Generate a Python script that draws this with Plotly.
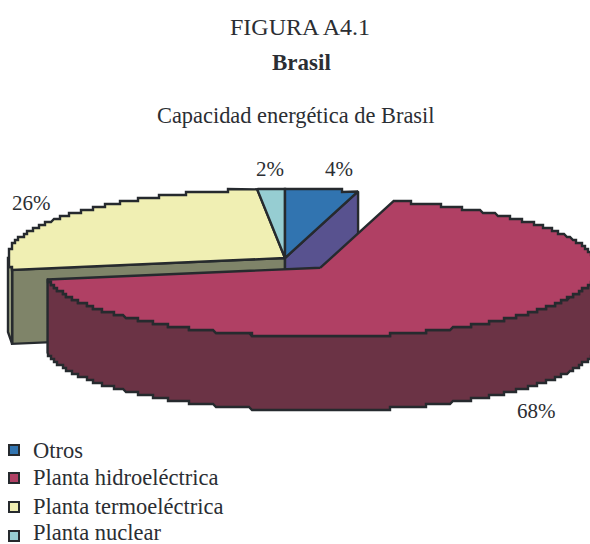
import numpy as np
import plotly.graph_objects as go

# Data
categories = ["Otros", "Planta hidroeléctrica", "Planta termoeléctrica", "Planta nuclear"]
values = [4.25, 68.0, 26.15, 1.6]
top_colors = ["#3174b0", "#b04064", "#f0efb3", "#96cdd2"]
side_colors = ["#58528f", "#6b3345", "#7f8469", "#5f8a8d"]
title_lines = ["FIGURA A4.1", "Brasil", "Capacidad energética de Brasil"]

# Layout constants
W, H = 590, 544
CX, CY, A, B, DEPTH = 285, 258, 277, 69, 74
EXPLODE = 0.19
EDGE = "#262a2e"
TEXT = "#2b2e33"
FONT = "Liberation Serif"
LABEL_POS = [(339, 169), (536, 411), (31, 203), (270, 169)]
LEGEND_Y = [450, 478, 507, 536]
LEGEND_TEXT_Y = [450, 477, 506, 532]
GRID = 3


def arc(cx, cy, t0, t1):
    n = max(int(abs(t1 - t0) * 300), 2)
    t = np.linspace(t0, t1, n)
    x = cx + A * np.sin(t)
    y = cy - B * np.cos(t)
    xq = np.round(x / GRID) * GRID
    yq = np.round(y / GRID) * GRID
    xq[0], yq[0], xq[-1], yq[-1] = x[0], y[0], x[-1], y[-1]
    return list(xq), list(yq)


def poly(fig, xs, ys, fill, width=2.4):
    fig.add_trace(go.Scatter(
        x=list(xs) + [xs[0]], y=list(ys) + [ys[0]], mode="lines", fill="toself",
        fillcolor=fill, line=dict(color=EDGE, width=width, shape="linear"),
        hoverinfo="skip", showlegend=False))


def slice_top(fig, cx, cy, t0, t1, fill):
    ax, ay = arc(cx, cy, t0, t1)
    poly(fig, [cx] + ax, [cy] + ay, fill)


def radial_face(fig, cx, cy, t, fill):
    x = cx + A * np.sin(t)
    y = cy - B * np.cos(t)
    poly(fig, [cx, x, x, cx], [cy, y, y + DEPTH, cy + DEPTH], fill)


fractions = np.array(values) / sum(values)
edges = np.concatenate([[0], np.cumsum(fractions)]) * 2 * np.pi

fig = go.Figure()

# Faces of the group that stays in place
radial_face(fig, CX, CY, edges[2], side_colors[2])
ax, ay = arc(CX, CY, edges[2], 1.5 * np.pi)
poly(fig, ax + [ax[-1], ax[0]], ay + [ay[-1] + DEPTH, ay[0] + DEPTH], "#a2a785")
radial_face(fig, CX, CY, edges[1], side_colors[0])

# Tops of the group that stays in place
slice_top(fig, CX, CY, edges[2], edges[3], top_colors[2])
slice_top(fig, CX, CY, edges[3], edges[4], top_colors[3])
slice_top(fig, CX, CY, edges[0], edges[1], top_colors[0])

# Exploded slice
mid = (edges[1] + edges[2]) / 2
hx = CX + EXPLODE * A * np.sin(mid)
hy = CY - EXPLODE * B * np.cos(mid)
ax, ay = arc(hx, hy, 0.5 * np.pi, edges[2])
poly(fig, ax + ax[::-1], ay + [v + DEPTH for v in ay[::-1]], side_colors[1])
slice_top(fig, hx, hy, edges[1], edges[2], top_colors[1])

# Legend swatches
fig.add_trace(go.Scatter(
    x=[14] * len(categories), y=LEGEND_Y, mode="markers",
    marker=dict(symbol="square", size=10, color=top_colors, line=dict(color=EDGE, width=2)),
    hoverinfo="skip", showlegend=False))

annotations = []


def label(x, y, text, size, anchor="center", bold=False):
    annotations.append(dict(
        x=x, y=y, xref="x", yref="y", text=f"<b>{text}</b>" if bold else text,
        showarrow=False, xanchor=anchor, yanchor="middle",
        font=dict(family=FONT, size=size, color=TEXT)))


label(300, 27, title_lines[0], 24)
label(301, 62, title_lines[1], 23, bold=True)
label(295, 115, title_lines[2], 22.4)
for v, (x, y) in zip(values, LABEL_POS):
    label(x, y, f"{round(v)}%", 21)
for c, y in zip(categories, LEGEND_TEXT_Y):
    label(31, y, c, 22.5, anchor="left")

fig.update_layout(
    width=W, height=H, margin=dict(l=0, r=0, t=0, b=0),
    paper_bgcolor="white", plot_bgcolor="white",
    xaxis=dict(range=[0, W], visible=False, fixedrange=True),
    yaxis=dict(range=[H, 0], visible=False, fixedrange=True),
    annotations=annotations, showlegend=False)

fig.write_html(
    "out.html", config={"displayModeBar": False},
    post_script="document.body.style.margin='0';document.documentElement.style.overflow='hidden';")
